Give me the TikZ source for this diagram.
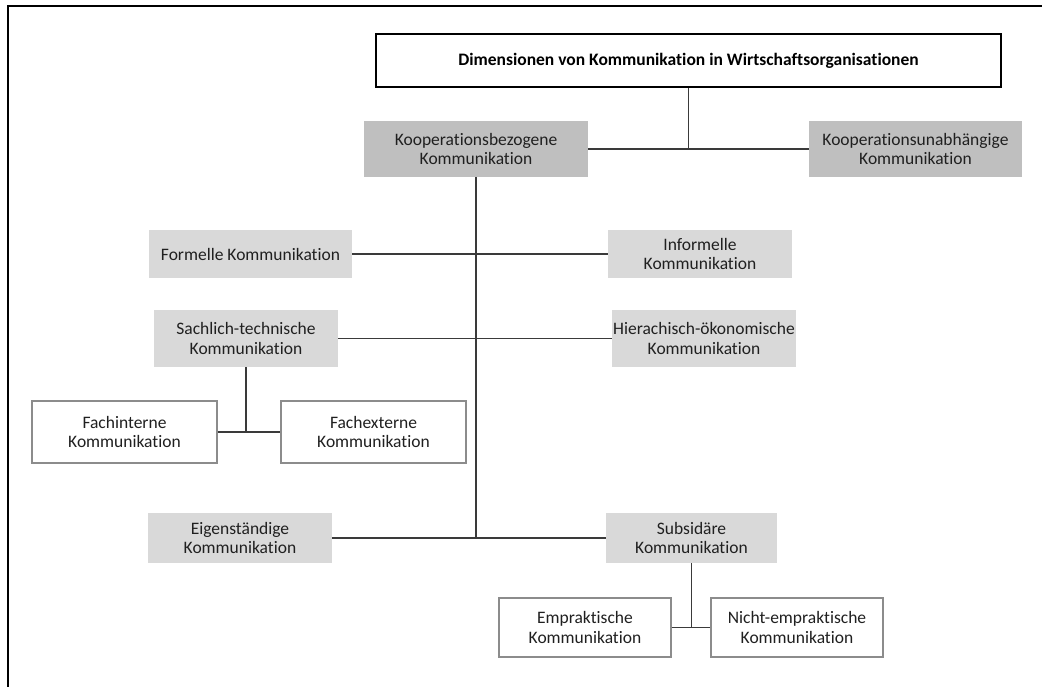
\documentclass[tikz,border=0pt]{standalone}
\usepackage{fontspec}
\setmainfont{Carlito}[Ligatures=NoCommon]
\usepackage{tikz}
\usepackage{xcolor}
\definecolor{dunkelgrau}{HTML}{BFBFBF}
\definecolor{hellgrau}{HTML}{D9D9D9}
\definecolor{rahmengrau}{HTML}{8C8C8C}
\definecolor{liniengrau}{HTML}{3A3A3A}
\definecolor{schrift}{HTML}{202020}

\begin{document}
\begin{tikzpicture}[x=1pt,y=-1pt,
		kasten/.style={rectangle,inner sep=0pt,align=center,text=schrift,
			font=\fontsize{17.5}{19.5}\selectfont},
		dunkel/.style={kasten,fill=dunkelgrau},
		hell/.style={kasten,fill=hellgrau},
		weiss/.style={kasten,fill=white,draw=rahmengrau,line width=1.1pt},
		linie/.style={draw=liniengrau,line width=1.3pt}]
		\useasboundingbox (0,0) rectangle (1042,687);
		\begin{scope}
			\coordinate (u) at (8,687);
			\coordinate (l) at (8,6);
			\coordinate (r) at (1042,6);
			\draw[line width=2pt] (u) -- (l) -- (r);
			\node[kasten,draw=black,line width=1.4pt,fill=white,minimum width=625pt,minimum height=53pt,
				font=\fontsize{17.5}{19.5}\selectfont\bfseries,text=black] (titel) at (688.5,60.5)
				{Dimensionen von Kommunikation in Wirtschaftsorganisationen};
			\node[dunkel,minimum width=224pt,minimum height=56pt] (kb) at (476,149)
				{Kooperationsbezogene\\Kommunikation};
			\node[dunkel,minimum width=213pt,minimum height=56pt] (ku) at (915.5,149)
				{Kooperationsunabhängige\\Kommunikation};
			\node[hell,minimum width=203pt,minimum height=48pt] (formell) at (250.5,254)
				{Formelle Kommunikation};
			\node[hell,minimum width=184pt,minimum height=48pt] (informell) at (700,254)
				{Informelle\\Kommunikation};
			\node[hell,minimum width=184pt,minimum height=57pt] (sachlich) at (246,338.5)
				{Sachlich-technische\\Kommunikation};
			\node[hell,minimum width=184pt,minimum height=57pt] (hierarch) at (704,338.5)
				{Hierachisch-ökonomische\\Kommunikation};
			\node[weiss,minimum width=185pt,minimum height=62pt] (fachint) at (124.5,432)
				{Fachinterne\\Kommunikation};
			\node[weiss,minimum width=185pt,minimum height=62pt] (fachext) at (373.5,432)
				{Fachexterne\\Kommunikation};
			\node[hell,minimum width=184pt,minimum height=50pt] (eigen) at (240,538)
				{Eigenständige\\Kommunikation};
			\node[hell,minimum width=171pt,minimum height=50pt] (subsid) at (691.5,538)
				{Subsidäre\\Kommunikation};
			\node[weiss,minimum width=172pt,minimum height=59pt] (emprakt) at (585,627.5)
				{Empraktische\\Kommunikation};
			\node[weiss,minimum width=172pt,minimum height=59pt] (nichtemp) at (797,627.5)
				{Nicht-empraktische\\Kommunikation};
			% Verbindungen
			\draw[linie] (titel.south) -- (titel.south |- kb.east);
			\draw[linie] (kb.east) -- (ku.west);
			\draw[linie] (kb.south) -- (kb.south |- eigen.east);
			\draw[linie] (formell.east) -- (informell.west);
			\draw[linie] (sachlich.east) -- (hierarch.west);
			\draw[linie] (eigen.east) -- (subsid.west);
			\draw[linie] (sachlich.south) -- (sachlich.south |- fachint.east);
			\draw[linie] (fachint.east) -- (fachext.west);
			\draw[linie] (subsid.south) -- (subsid.south |- emprakt.east);
			\draw[linie] (emprakt.east) -- (nichtemp.west);
		\end{scope}
	\end{tikzpicture}
\end{document}
